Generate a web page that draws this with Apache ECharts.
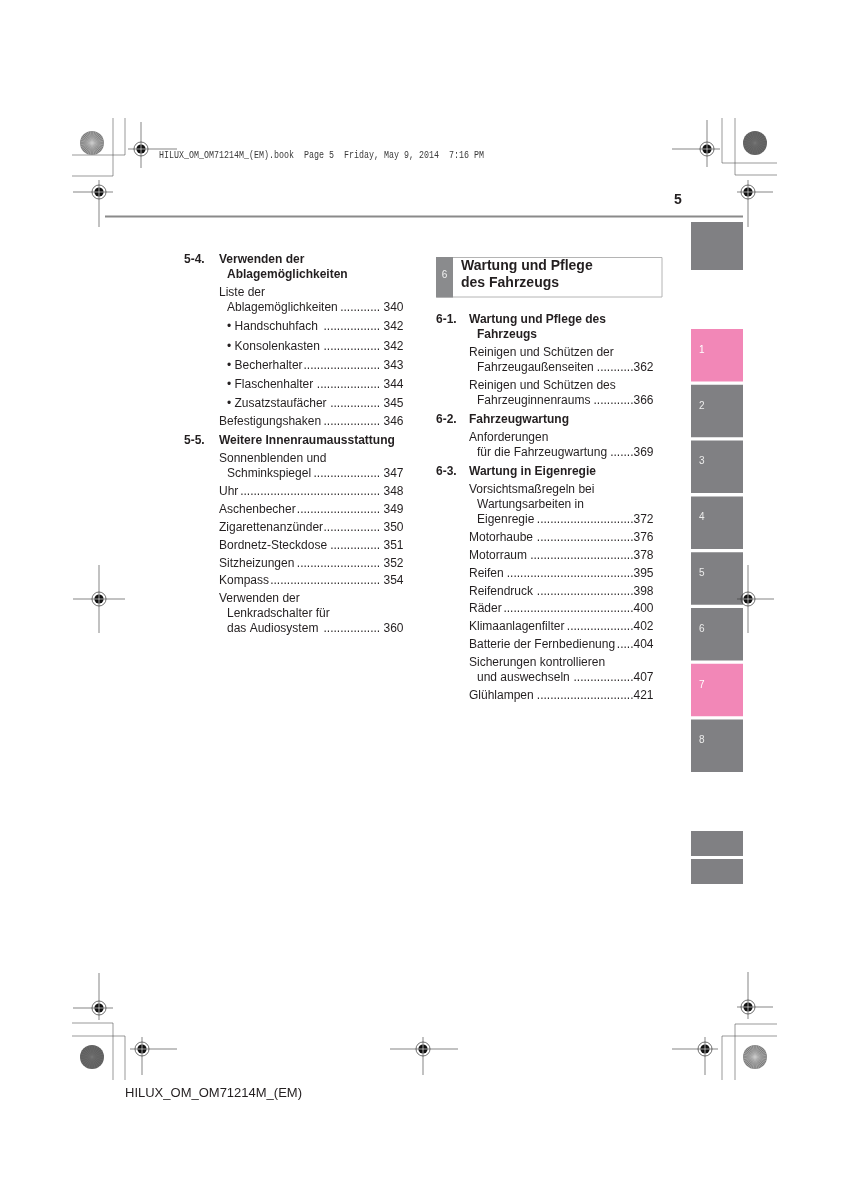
<!DOCTYPE html>
<html><head><meta charset="utf-8">
<script src="https://cdn.jsdelivr.net/npm/echarts@6/dist/echarts.min.js"></script>
<style>html,body{margin:0;padding:0;background:#fff}#c{width:848px;height:1200px}</style>
</head><body><div id="c"></div>
<script>
// ---------- content ----------
const headerText = 'HILUX_OM_OM71214M_(EM).book  Page 5  Friday, May 9, 2014  7:16 PM';
const footerText = 'HILUX_OM_OM71214M_(EM)';
const pageNumber = '5';
const chapterNumber = '6';
const chapterTitle = ['Wartung und Pflege', 'des Fahrzeugs'];
const tabLabels = ['1', '2', '3', '4', '5', '6', '7', '8'];
const tabHighlighted = ['1', '7'];

const items54 = [
  { lines: ['Liste der', 'Ablagemöglichkeiten '], page: '340' },
  { lines: ['• Handschuhfach '], page: '342', bullet: true },
  { lines: ['• Konsolenkasten'], page: '342', bullet: true },
  { lines: ['• Becherhalter'], page: '343', bullet: true },
  { lines: ['• Flaschenhalter'], page: '344', bullet: true },
  { lines: ['• Zusatzstaufächer'], page: '345', bullet: true },
  { lines: ['Befestigungshaken '], page: '346' }
];
const items55 = [
  { lines: ['Sonnenblenden und', 'Schminkspiegel '], page: '347' },
  { lines: ['Uhr'], page: '348' },
  { lines: ['Aschenbecher'], page: '349' },
  { lines: ['Zigarettenanzünder'], page: '350' },
  { lines: ['Bordnetz-Steckdose'], page: '351' },
  { lines: ['Sitzheizungen '], page: '352' },
  { lines: ['Kompass'], page: '354' },
  { lines: ['Verwenden der', 'Lenkradschalter für', 'das Audiosystem '], page: '360' }
];
const items61 = [
  { lines: ['Reinigen und Schützen der', 'Fahrzeugaußenseiten '], page: '362' },
  { lines: ['Reinigen und Schützen des', 'Fahrzeuginnenraums '], page: '366' }
];
const items62 = [
  { lines: ['Anforderungen', 'für die Fahrzeugwartung '], page: '369' }
];
const items63 = [
  { lines: ['Vorsichtsmaßregeln bei', 'Wartungsarbeiten in', 'Eigenregie '], page: '372' },
  { lines: ['Motorhaube '], page: '376' },
  { lines: ['Motorraum'], page: '378' },
  { lines: ['Reifen '], page: '395' },
  { lines: ['Reifendruck '], page: '398' },
  { lines: ['Räder'], page: '400' },
  { lines: ['Klimaanlagenfilter'], page: '402' },
  { lines: ['Batterie der Fernbedienung'], page: '404' },
  { lines: ['Sicherungen kontrollieren', 'und auswechseln '], page: '407' },
  { lines: ['Glühlampen '], page: '421' }
];
const leftSections = [
  { num: '5-4.', title: ['Verwenden der', 'Ablagemöglichkeiten'], items: items54 },
  { num: '5-5.', title: ['Weitere Innenraumausstattung'], items: items55 }
];
const rightSections = [
  { num: '6-1.', title: ['Wartung und Pflege des', 'Fahrzeugs'], items: items61 },
  { num: '6-2.', title: ['Fahrzeugwartung'], items: items62 },
  { num: '6-3.', title: ['Wartung in Eigenregie'], items: items63 }
];

// ---------- helpers ----------
const INK = '#231f20';
const FONT = '12px "Liberation Sans", Arial, sans-serif';
const BFONT = 'bold 12px "Liberation Sans", Arial, sans-serif';
const mctx = document.createElement('canvas').getContext('2d');
function measure(t, f) { mctx.font = f; return mctx.measureText(t).width; }

function txt(x, y, t, font, fill, align, extra) {
  return Object.assign({
    type: 'text', x: x, y: y, silent: true,
    style: { text: t, font: font, fill: fill || INK, align: align || 'left', verticalAlign: 'middle' }
  }, extra || {});
}
function line(x1, y1, x2, y2, c, w) {
  return { type: 'line', silent: true, shape: { x1, y1, x2, y2 }, style: { stroke: c || '#444', lineWidth: w || 0.6 } };
}
function rect(x, y, w, h, fill, stroke) {
  return { type: 'rect', silent: true, shape: { x, y, width: w, height: h },
    style: { fill: fill || 'none', stroke: stroke || null, lineWidth: 1 } };
}
function regMark(cx, cy, l, r, t, b) {
  return [
    line(cx - l, cy, cx + r, cy, '#333', 0.6),
    line(cx, cy - t, cx, cy + b, '#333', 0.6),
    { type: 'circle', silent: true, shape: { cx, cy, r: 7 }, style: { fill: 'none', stroke: '#333', lineWidth: 0.7 } },
    { type: 'circle', silent: true, shape: { cx, cy, r: 4.6 }, style: { fill: '#111' } },
    line(cx - 4.6, cy, cx + 4.6, cy, '#fff', 0.6),
    line(cx, cy - 4.6, cx, cy + 4.6, '#fff', 0.6)
  ];
}
function disc(cx, cy, spokes) {
  const els = [{ type: 'circle', silent: true, shape: { cx, cy, r: 12 }, style: { fill: spokes ? '#7a7a7a' : '#606060' } }];
  const n = spokes ? 40 : 24;
  for (let i = 0; i < n; i++) {
    const a = i * Math.PI * 2 / n;
    els.push(line(cx, cy, cx + 12 * Math.cos(a), cy + 12 * Math.sin(a), spokes ? '#c8c8c8' : '#777', spokes ? 0.5 : 0.4));
  }
  return els;
}

function column(sections, L) {
  const els = [];
  const dotW = measure('.', FONT);
  let y = L.y0;
  sections.forEach((sec, si) => {
    if (si > 0) y += L.headStep;
    els.push(txt(L.num, y, sec.num, BFONT));
    sec.title.forEach((t, i) => {
      if (i) y += L.lineH;
      els.push(txt(i ? L.ind : L.txt, y, t, BFONT));
    });
    sec.items.forEach(it => {
      y += it.bullet ? L.bulletStep : L.entryStep;
      it.lines.forEach((raw, i) => {
        if (i) y += L.lineH;
        const t = raw.replace(/\s+$/, '');
        const spaced = t !== raw;
        const x = (i || it.bullet) ? L.ind : L.txt;
        els.push(txt(x, y, t, FONT));
        if (i === it.lines.length - 1) {
          els.push(txt(L.right, y, it.page, FONT, INK, 'right'));
          const dotsEnd = L.right - measure(it.page, FONT) - L.numGap;
          const textEnd = x + measure(t, FONT) + (spaced ? 2.4 : 0.3);
          const n = Math.max(0, Math.floor((dotsEnd - textEnd) / dotW));
          els.push(txt(dotsEnd, y, '.'.repeat(n), FONT, INK, 'right'));
        }
      });
    });
  });
  return els;
}

// ---------- build ----------
const G = [];
// trim lines
[
  [113, 118, 113, 176], [72, 176, 113, 176], [125, 118, 125, 155], [72, 155, 125, 155],
  [735, 118, 735, 175], [735, 175, 777, 175], [722, 118, 722, 163], [722, 163, 777, 163],
  [113, 1023, 113, 1080], [72, 1023, 113, 1023], [125, 1036, 125, 1080], [72, 1036, 125, 1036],
  [735, 1024, 735, 1080], [735, 1024, 777, 1024], [722, 1036, 722, 1080], [722, 1036, 777, 1036]
].forEach(s => G.push(line(s[0], s[1], s[2], s[3], '#555', 0.6)));
G.push(...disc(92, 143, true), ...disc(755, 143, false), ...disc(92, 1057, false), ...disc(755, 1057, true));

// header
G.push(txt(159, 155, headerText, '10px "Liberation Mono", "Courier New", monospace', '#3a3a3a', 'left', { scaleX: 0.833 }));
G.push(line(105, 216.5, 743, 216.5, '#8a8a8a', 2.2));
G.push(txt(678, 200, pageNumber, 'bold 14px "Liberation Sans", Arial, sans-serif', INK, 'center'));

// side tabs
G.push(rect(691, 222, 52, 48, '#808083'));
tabLabels.forEach((t, i) => {
  const top = 329 + i * 55.8;
  const hi = tabHighlighted.indexOf(t) >= 0;
  G.push(rect(691, top, 52, 52.5, hi ? '#f287b7' : '#808083'));
  G.push(txt(699, top + 21, t, '10px "Liberation Sans", Arial, sans-serif', hi ? '#fff' : '#ececec'));
});
G.push(rect(691, 831, 52, 25, '#808083'), rect(691, 859, 52, 25, '#808083'));

// chapter title box
G.push(rect(436.5, 257.5, 225.5, 39.5, '#fff', '#b4b4b4'));
G.push(rect(436, 257, 17, 40.5, '#8a8b8d'));
G.push(txt(444.5, 275, chapterNumber, '10px "Liberation Sans", Arial, sans-serif', '#f2f2f2', 'center'));
chapterTitle.forEach((t, i) => G.push(txt(461, 266 + i * 17, t, 'bold 14px "Liberation Sans", Arial, sans-serif', INK)));

// columns
const layoutBase = { lineH: 15, entryStep: 17.9, bulletStep: 19.2, headStep: 19 };
G.push(...column(leftSections, Object.assign({ y0: 260, num: 184, txt: 219, ind: 227, right: 403.5, numGap: 3.3 }, layoutBase)));
G.push(...column(rightSections, Object.assign({ y0: 320, num: 436, txt: 469, ind: 477, right: 653.5, numGap: 0 }, layoutBase)));

// footer
G.push(txt(125, 1093, footerText, '13px "Liberation Sans", Arial, sans-serif', INK));

// registration marks (drawn on top)
G.push(...regMark(141, 149, 13, 36, 27, 19));
G.push(...regMark(99, 192, 26, 14, 12, 35));
G.push(...regMark(707, 149, 35, 13, 29, 18));
G.push(...regMark(748, 192, 11, 25, 12, 35));
G.push(...regMark(99, 599, 26, 26, 34, 34));
G.push(...regMark(748, 599, 11, 26, 34, 34));
G.push(...regMark(99, 1008, 26, 14, 35, 12));
G.push(...regMark(142, 1049, 12, 35, 12, 26));
G.push(...regMark(423, 1049, 33, 35, 12, 26));
G.push(...regMark(705, 1049, 33, 13, 12, 26));
G.push(...regMark(748, 1007, 11, 25, 35, 12));

const chart = echarts.init(document.getElementById('c'), null, { renderer: 'canvas', width: 848, height: 1200 });
chart.setOption({ backgroundColor: '#ffffff', animation: false, graphic: { elements: G } });
</script></body></html>
